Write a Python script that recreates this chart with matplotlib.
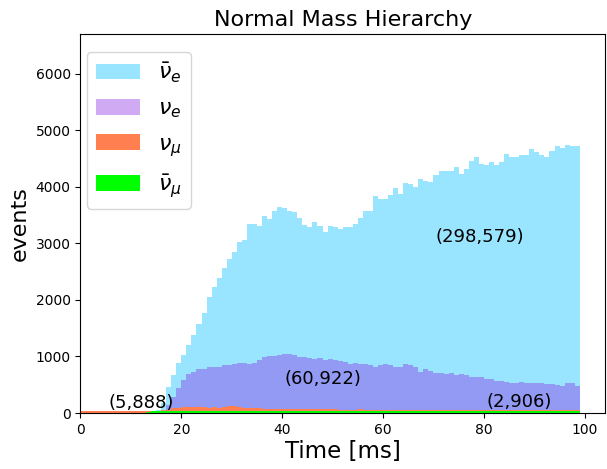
import numpy as np
import matplotlib
matplotlib.use("Agg")
import matplotlib.pyplot as plt

# bin edges: 1 ms bins from 0 to 99 ms
edges = np.arange(0, 100, 1)

# events per bin
anti_nue = [5, 8, 6, 10, 7, 9, 12, 8, 10, 11, 9, 13, 15, 18, 25,
            60, 175, 465, 670, 876, 1020, 1200, 1375, 1580, 1770,
            2050, 2228, 2390, 2570, 2730, 2855, 3020, 3050, 3345, 3345,
            3315, 3475, 3435, 3570, 3650, 3630, 3580, 3550, 3445, 3330,
            3285, 3375, 3315, 3200, 3315, 3285, 3245, 3285, 3285, 3350,
            3450, 3580, 3580, 3830, 3780, 3790, 3850, 3980, 3870, 4070,
            4040, 3990, 4140, 4110, 4080, 4200, 4270, 4280, 4286, 4356,
            4227, 4315, 4450, 4533, 4404, 4386, 4444, 4386, 4444, 4580,
            4521, 4521, 4568, 4568, 4662, 4609, 4568, 4521, 4627, 4727,
            4686, 4744, 4727, 4727]

nue = [3, 2, 4, 3, 5, 4, 3, 6, 4, 5, 6, 5, 8, 10, 15,
       30, 60, 140, 290, 450, 580, 682, 730, 770, 775,
       805, 817, 810, 847, 850, 864, 888, 885, 875, 890,
       935, 994, 1005, 1000, 1023, 1040, 1052, 1020, 994, 990,
       964, 950, 975, 935, 960, 935, 925, 910, 864, 880,
       864, 860, 841, 820, 850, 858, 850, 817, 810, 858,
       850, 817, 729, 770, 750, 711, 700, 690, 700, 670,
       690, 670, 640, 630, 630, 600, 595, 570, 570, 552,
       535, 523, 552, 523, 535, 535, 523, 511, 505, 494,
       476, 523, 523, 476]

numu = [30, 28, 32, 29, 31, 27, 30, 33, 29, 31, 28, 30, 32, 29, 31,
        35, 45, 60, 80, 95,
        105, 110, 100, 105, 100, 95, 100, 95, 110, 120, 115, 105, 95, 90, 85,
        80, 75, 78, 72, 76, 74, 70, 78, 73, 75, 71, 74, 70, 72, 68, 70,
        60, 55, 58, 52, 62, 55, 57, 50, 60, 54, 56, 52, 58, 50, 55, 60,
        52, 54, 50, 57, 53, 55, 50, 58, 52, 55, 60, 50, 54, 52, 57, 55,
        50, 53, 58, 52, 55, 50, 56, 54, 52, 57, 50, 55, 53, 58, 52, 55]

anti_numu = [0] * 13 + [15, 28,
             30, 33, 36, 38, 40, 42, 40, 41, 39, 40,
             41, 39, 40, 38, 40, 39, 41, 38, 37, 39,
             38, 37, 39, 36, 38, 37, 36, 38, 35, 37,
             36, 35, 37, 34, 36, 35, 34, 36, 33, 35,
             34, 33, 35, 32, 34, 33, 35, 32, 34, 33,
             32, 34, 31, 33, 32, 34, 31, 33, 32, 31,
             33, 31, 32, 30, 32, 31, 33, 30, 31, 32,
             30, 31, 32, 30, 31, 29, 31, 30, 32, 30,
             31, 29, 30, 31]

totals = ["(298,579)", "(60,922)", "(5,888)", "(2,906)"]

fig = plt.figure(figsize=(6.07, 4.69), dpi=100)
ax = fig.add_axes([0.1326, 0.1194, 0.864, 0.808])

ax.stairs(anti_nue, edges, fill=True, color="deepskyblue", alpha=0.4, label=r"$\bar{\nu}_e$")
ax.stairs(nue, edges, fill=True, color="blueviolet", alpha=0.4, label=r"$\nu_e$")
ax.stairs(numu, edges, fill=True, color="coral", label=r"$\nu_\mu$")
ax.stairs(anti_numu, edges, fill=True, color="lime", label=r"$\bar{\nu}_\mu$")

# totals written on the plot
ax.text(79.2, 3110, totals[0], fontsize=13, ha="center", va="center")
ax.text(48.1, 600, totals[1], fontsize=13, ha="center", va="center")
ax.text(12.0, 176, totals[2], fontsize=13, ha="center", va="center")
ax.text(86.9, 200, totals[3], fontsize=13, ha="center", va="center")

ax.set_xlim(0, 104)
ax.set_ylim(0, 6700)
ax.set_xlabel("Time [ms]", fontsize=16.5, labelpad=2)
ax.set_ylabel("events", fontsize=16)
ax.set_title("Normal Mass Hierarchy", fontsize=16)
ax.legend(loc="upper left", fontsize=16, labelspacing=0.62,
          bbox_to_anchor=(87 / 607, 1 - 52 / 469), bbox_transform=fig.transFigure,
          borderaxespad=0)

fig.savefig("out.png", dpi=100)
plt.close()
